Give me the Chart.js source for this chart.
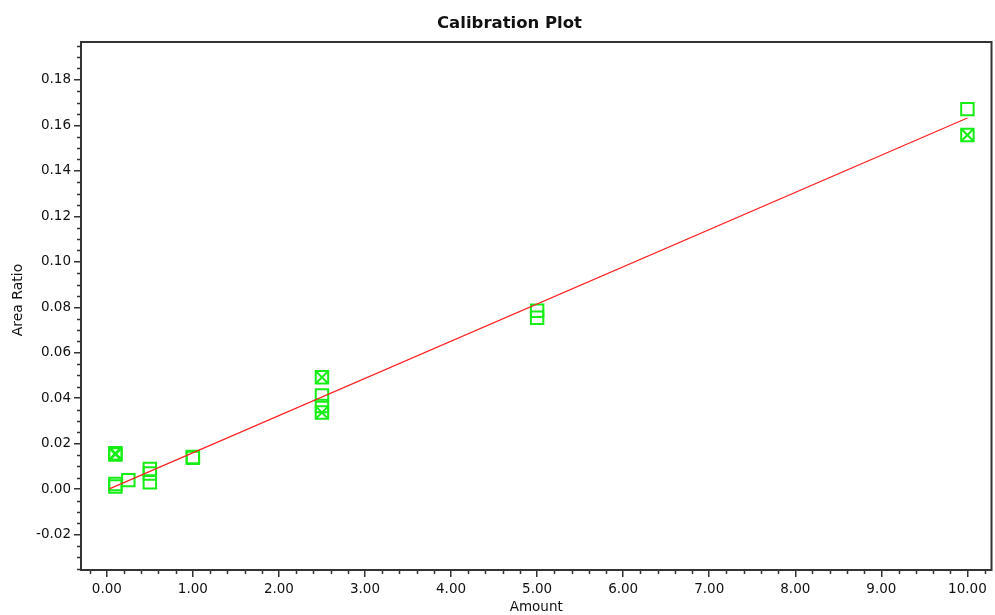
<!DOCTYPE html>
<html>
<head>
<meta charset="utf-8">
<title>Calibration Plot</title>
<script src="https://cdn.jsdelivr.net/npm/chart.js@4"></script>
<style>
  html, body { margin: 0; padding: 0; background: #fff; overflow: hidden; }
  #wrap { width: 995px; height: 615px; position: relative; }
</style>
</head>
<body>
<div id="wrap"><canvas id="plot"></canvas></div>
<script>
// Calibration standards: open squares
const amountOpen = [0.1, 0.1, 0.25, 0.5, 0.5, 0.5, 1.0, 1.0, 2.5, 2.5, 5.0, 5.0, 10.0];
const ratioOpen  = [0.0023, 0.0012, 0.0040, 0.0089, 0.0069, 0.0031, 0.0142, 0.0138, 0.0412, 0.0366, 0.0785, 0.0754, 0.1671];

// Calibration standards: excluded (crossed squares)
const amountCrossed = [0.1, 0.1, 2.5, 2.5, 10.0];
const ratioCrossed  = [0.0158, 0.0153, 0.0492, 0.0337, 0.1557];

// Linear fit end points
const fitAmount = [0.03, 10.0];
const fitRatio  = [0.0002, 0.1632];

// Axis ranges and tick steps
const xRange = [-0.3, 10.28];
const yRange = [-0.0355, 0.1966];
const xStep = 1, xMinorStep = 0.2;
const yStep = 0.02, yMinorStep = 0.005;

const GREEN = '#14ee14';
const RED = '#ff2222';
const AXIS = '#333333';
const TEXT = '#111111';
const FONT = '"DejaVu Sans", Verdana, sans-serif';

const pts = (xs, ys) => xs.map((x, i) => ({ x: x, y: ys[i] }));
const fmt = v => (Math.abs(v) < 1e-9 ? 0 : v).toFixed(2);

// Frame, minor ticks and text labels
const decorations = {
  id: 'decorations',
  afterDraw(chart) {
    const { ctx, chartArea: a, scales } = chart;
    ctx.save();
    ctx.strokeStyle = AXIS;
    ctx.lineWidth = 2;
    ctx.strokeRect(a.left, a.top, a.right - a.left, a.bottom - a.top);

    ctx.lineWidth = 1.5;
    ctx.beginPath();
    const ys = scales.y;
    for (let k = Math.ceil(yRange[0] / yMinorStep); k * yMinorStep <= yRange[1]; k++) {
      if (k % Math.round(yStep / yMinorStep) === 0) continue;
      const py = Math.round(ys.getPixelForValue(k * yMinorStep)) + 0.5;
      ctx.moveTo(a.left - 4, py);
      ctx.lineTo(a.left, py);
    }
    const xs = scales.x;
    for (let k = Math.ceil(xRange[0] / xMinorStep); k * xMinorStep <= xRange[1]; k++) {
      if (k % Math.round(xStep / xMinorStep) === 0) continue;
      const px = Math.round(xs.getPixelForValue(k * xMinorStep)) + 0.5;
      ctx.moveTo(px, a.bottom);
      ctx.lineTo(px, a.bottom + 4);
    }
    ctx.stroke();

    ctx.fillStyle = TEXT;
    ctx.textAlign = 'center';
    ctx.textBaseline = 'alphabetic';
    ctx.font = 'bold 16.5px ' + FONT;
    ctx.fillText('Calibration Plot', 509.5, 28);

    ctx.font = '13.5px ' + FONT;
    ctx.fillText('Amount', (a.left + a.right) / 2, 611);

    ctx.translate(18, 300);
    ctx.rotate(-Math.PI / 2);
    ctx.textBaseline = 'middle';
    ctx.font = '14px ' + FONT;
    ctx.fillText('Area Ratio', 0, 0);
    ctx.restore();
  }
};

new Chart(document.getElementById('plot'), {
  type: 'scatter',
  data: {
    datasets: [
      {
        type: 'line',
        data: pts(fitAmount, fitRatio),
        borderColor: RED,
        borderWidth: 1.3,
        pointRadius: 0,
        fill: false,
        order: 0
      },
      {
        data: pts(amountOpen, ratioOpen),
        pointStyle: 'rect',
        pointRadius: 8.8,
        pointBorderWidth: 2,
        borderColor: GREEN,
        backgroundColor: 'rgba(0,0,0,0)',
        order: 2
      },
      {
        data: pts(amountCrossed, ratioCrossed),
        pointStyle: 'rect',
        pointRadius: 8.8,
        pointBorderWidth: 2,
        borderColor: GREEN,
        backgroundColor: 'rgba(0,0,0,0)',
        order: 2
      },
      {
        data: pts(amountCrossed, ratioCrossed),
        pointStyle: 'crossRot',
        pointRadius: 8.8,
        pointBorderWidth: 2,
        borderColor: GREEN,
        backgroundColor: 'rgba(0,0,0,0)',
        order: 1
      }
    ]
  },
  options: {
    responsive: true,
    maintainAspectRatio: false,
    animation: false,
    events: [],
    layout: {
      autoPadding: false,
      padding: { top: 42, right: 3.5, left: 0, bottom: 0 }
    },
    plugins: {
      legend: { display: false },
      tooltip: { enabled: false },
      title: { display: false }
    },
    scales: {
      x: {
        type: 'linear',
        min: xRange[0],
        max: xRange[1],
        afterFit(scale) {
          scale.height = 45;
          scale.paddingLeft = 0;
          scale.paddingRight = 0;
        },
        border: { display: false },
        grid: {
          drawOnChartArea: false,
          drawTicks: true,
          tickLength: 7,
          color: AXIS,
          lineWidth: 1.5
        },
        ticks: {
          stepSize: xStep,
          includeBounds: false,
          autoSkip: false,
          maxRotation: 0,
          padding: 4,
          color: TEXT,
          font: { family: FONT, size: 13.5 },
          callback: v => fmt(v)
        }
      },
      y: {
        type: 'linear',
        min: yRange[0],
        max: yRange[1],
        afterFit(scale) {
          scale.width = 81;
          scale.paddingTop = 0;
          scale.paddingBottom = 0;
        },
        border: { display: false },
        grid: {
          drawOnChartArea: false,
          drawTicks: true,
          tickLength: 7,
          color: AXIS,
          lineWidth: 1.5
        },
        ticks: {
          stepSize: yStep,
          includeBounds: false,
          autoSkip: false,
          padding: 3,
          color: TEXT,
          font: { family: FONT, size: 13.5 },
          callback: v => fmt(v)
        }
      }
    }
  },
  plugins: [decorations]
});
</script>
</body>
</html>
